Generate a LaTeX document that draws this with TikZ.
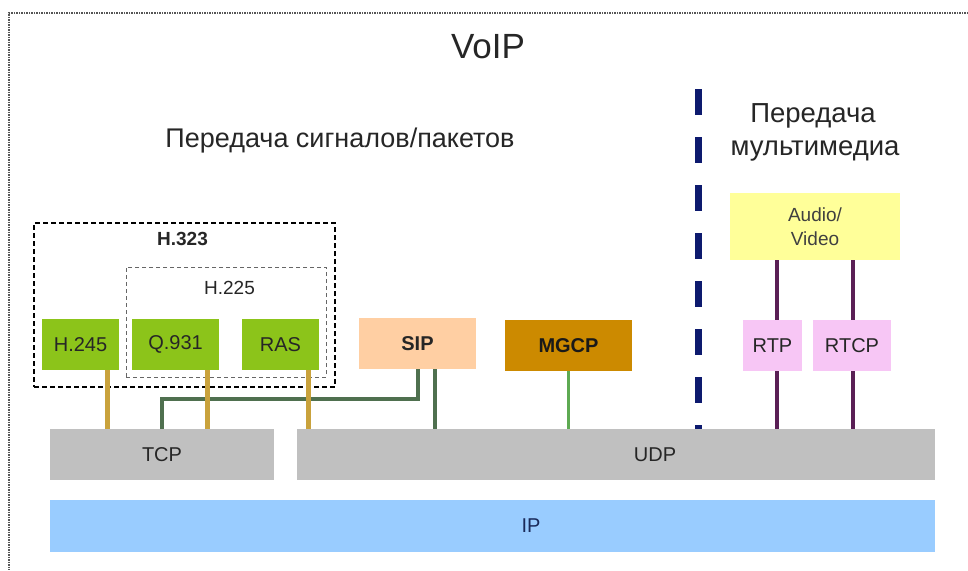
\documentclass[tikz,border=0pt]{standalone}
\usepackage{fontspec}
\setmainfont{Liberation Sans}
\begin{document}
\begin{tikzpicture}[x=1pt,y=-1pt,
  box/.style={inner sep=0pt, outer sep=0pt, draw=none, text=black!85, font=\fontsize{20}{24}\selectfont},
  gbox/.style={box, fill=protgreen},
  layer/.style={box, fill=layergray},
  grp/.style={inner sep=0pt, outer sep=0pt, draw=black, line width=1.4pt, dash pattern=on 5pt off 3pt},
  subgrp/.style={inner sep=0pt, outer sep=0pt, draw=black!60, line width=1pt, dash pattern=on 4pt off 3pt},
  goldline/.style={draw=lgold, line width=5pt},
  grline/.style={draw=lgreen, line width=4pt},
  mgline/.style={draw=mgreen, line width=3.5pt},
  puline/.style={draw=lpurple, line width=3.5pt},
  lbl/.style={inner sep=0pt, text=black!85},
]
\definecolor{protgreen}{HTML}{8CC41A}
\definecolor{layergray}{HTML}{C0C0C0}
\definecolor{sippeach}{HTML}{FFCFA3}
\definecolor{mgcpgold}{HTML}{CC8A00}
\definecolor{avyellow}{HTML}{FFFF99}
\definecolor{rtppink}{HTML}{F7C6F5}
\definecolor{ipblue}{HTML}{99CCFF}
\definecolor{lgold}{HTML}{C9A23C}
\definecolor{lgreen}{HTML}{4F704F}
\definecolor{mgreen}{HTML}{5EAA52}
\definecolor{lpurple}{HTML}{5A1F55}
\definecolor{dnavy}{HTML}{0D1A6E}
\definecolor{framegray}{HTML}{555555}
\definecolor{iptext}{HTML}{1A2A5A}

\useasboundingbox (0,0) rectangle (968,570);
\fill[white] (0,0) rectangle (968,570);

% outer frame (top and left visible)
\draw[framegray, line width=1.5pt, dash pattern=on 1.5pt off 1pt] (968,13) -- (9,13) -- (9,570);

% titles
\node[lbl, anchor=base, font=\fontsize{35}{40}\selectfont] (voip) at (488,58) {VoIP};
\node[lbl, anchor=base, font=\fontsize{27}{32}\selectfont] (sig) at (340,147) {Передача сигналов/пакетов};
\node[lbl, anchor=base, font=\fontsize{27.5}{32}\selectfont] (mmA) at (813,122) {Передача};
\node[lbl, anchor=base, font=\fontsize{27.5}{32}\selectfont] (mmB) at (815,155) {мультимедиа};

% dashed separator
\coordinate (septop) at (698,89);
\coordinate (sepbot) at (698,433);
\draw[dnavy, line width=7pt, dash pattern=on 26pt off 22pt] (septop) -- (sepbot);

% groups
\node[grp, minimum width=301pt, minimum height=164pt] (h323) at (184.5,305) {};
\node[subgrp, minimum width=200pt, minimum height=110pt] (h225) at (226,322) {};
\node[lbl, anchor=base, font=\bfseries\fontsize{19}{23}\selectfont] (h323l) at (182.5,245) {H.323};
\node[lbl, anchor=base, font=\fontsize{19}{23}\selectfont] (h225l) at (229.5,294) {H.225};

% protocol boxes
\node[gbox, minimum width=77pt, minimum height=51pt] (h245) at (80.5,344.5) {H.245};
\node[gbox, minimum width=87pt, minimum height=51pt] (q931) at (175.5,344.5) {Q.931};
\node[gbox, minimum width=77pt, minimum height=51pt] (ras) at (280.5,344.5) {RAS};
\node[box, fill=sippeach, minimum width=117pt, minimum height=51pt, font=\bfseries\fontsize{20}{24}\selectfont] (sip) at (417.5,343.5) {SIP};
\node[box, fill=mgcpgold, minimum width=127pt, minimum height=51pt, text=black!90, font=\bfseries\fontsize{20}{24}\selectfont] (mgcp) at (568.5,345.5) {MGCP};
\node[box, fill=avyellow, minimum width=170pt, minimum height=67pt, align=center, text=black!75, font=\fontsize{19}{24}\selectfont] (av) at (815,226.5) {Audio/\\Video};
\node[box, fill=rtppink, minimum width=59pt, minimum height=51pt] (rtp) at (772.5,345.5) {RTP};
\node[box, fill=rtppink, minimum width=78pt, minimum height=51pt] (rtcp) at (852,345.5) {RTCP};

% layers
\node[layer, minimum width=224pt, minimum height=51pt] (tcp) at (162,454.5) {TCP};
\node[layer, minimum width=638pt, minimum height=51pt] (udp) at (616,454.5) {};
\node[lbl, font=\fontsize{20}{24}\selectfont] (udpl) at (655,455) {UDP};
\node[box, fill=ipblue, minimum width=885pt, minimum height=52pt] (ip) at (492.5,526) {};
\node[lbl, text=iptext, font=\fontsize{20}{24}\selectfont] (ipl) at (531,526) {IP};

% connectors
\draw[grline] (sip.south) -- ++(0,30) -| (tcp.north);
\draw[grline] ([xshift=17.5pt]sip.south) -- ([xshift=17.5pt]sip.south |- udp.north);
\draw[mgline] (mgcp.south) -- (mgcp.south |- udp.north);
\draw[goldline] ([xshift=26.5pt]h245.south) -- ([xshift=26.5pt]h245.south |- tcp.north);
\draw[goldline] ([xshift=31.5pt]q931.south) -- ([xshift=31.5pt]q931.south |- tcp.north);
\draw[goldline] ([xshift=27.5pt]ras.south) -- ([xshift=27.5pt]ras.south |- udp.north);
\draw[puline] ([xshift=4.5pt]rtp.north |- av.south) -- ([xshift=4.5pt]rtp.north);
\draw[puline] ([xshift=4.5pt]rtp.south) -- ([xshift=4.5pt]rtp.south |- udp.north);
\draw[puline] ([xshift=1pt]rtcp.north |- av.south) -- ([xshift=1pt]rtcp.north);
\draw[puline] ([xshift=1pt]rtcp.south) -- ([xshift=1pt]rtcp.south |- udp.north);
\end{tikzpicture}
\end{document}
